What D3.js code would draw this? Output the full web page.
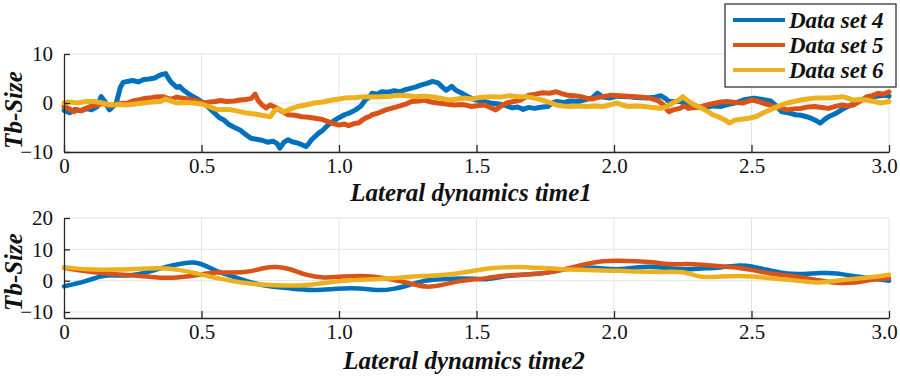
<!DOCTYPE html>
<html lang="en">
  <head>
    <meta charset="UTF-8" />
    <title>Tb-Size lateral dynamics</title>
    <script src="https://d3js.org/d3.v7.min.js"></script>
    <style>
      body { margin: 0; background: #fff; }
      svg text { font-family: "Liberation Serif", "Times New Roman", serif; fill: #111; }
      .lbl { font-weight: bold; font-style: italic; }
    </style>
  </head>
  <body>
    <svg width="900" height="378"></svg>

    <script>
      // series names and colours (legend)
      const seriesNames = ["Data set 4", "Data set 5", "Data set 6"];
      const seriesColors = ["#0072BD", "#D95319", "#EDB120"];

      // tick labels
      const xTicks = [0, 0.5, 1.0, 1.5, 2.0, 2.5, 3.0];
      const yTicksTop = [-10, 0, 10];
      const yTicksBottom = [-10, 0, 10, 20];

      // top panel: [time, value]
      const set4Top = [[0,-1.5],[0.02,-2.0],[0.04,-1.3],[0.06,-1.6],[0.08,-1.1],[0.10,-1.4],[0.12,-0.8],[0.135,1.3],[0.15,0.2],[0.165,-1.4],[0.18,-0.6],[0.19,0.0],[0.205,3.2],[0.215,4.2],[0.23,4.4],[0.25,4.6],[0.27,4.3],[0.29,4.8],[0.31,4.9],[0.33,5.1],[0.345,5.6],[0.36,5.9],[0.37,6.0],[0.38,5.0],[0.39,4.2],[0.41,3.2],[0.42,3.4],[0.435,2.6],[0.45,2.0],[0.46,1.6],[0.48,1.0],[0.50,0.3],[0.52,-0.6],[0.535,-1.4],[0.55,-2.2],[0.565,-3.0],[0.58,-3.4],[0.60,-4.4],[0.62,-5.0],[0.64,-5.5],[0.66,-6.4],[0.68,-7.2],[0.70,-7.4],[0.72,-7.6],[0.74,-8.0],[0.76,-7.8],[0.775,-8.3],[0.785,-9.2],[0.80,-8.0],[0.815,-7.5],[0.83,-7.9],[0.85,-8.2],[0.865,-8.5],[0.88,-8.9],[0.89,-8.3],[0.90,-7.5],[0.925,-6.2],[0.94,-5.6],[0.96,-4.5],[0.985,-3.5],[1.00,-3.0],[1.02,-2.4],[1.04,-2.0],[1.06,-1.4],[1.08,-0.6],[1.095,0.6],[1.11,1.2],[1.12,2.0],[1.14,1.8],[1.155,2.3],[1.18,2.2],[1.20,2.5],[1.22,2.3],[1.24,2.7],[1.26,3.0],[1.28,3.3],[1.30,3.7],[1.32,4.0],[1.34,4.4],[1.36,4.1],[1.375,3.3],[1.39,2.6],[1.41,3.4],[1.425,2.6],[1.44,2.2],[1.46,1.6],[1.48,1.0],[1.50,0.6],[1.52,0.4],[1.55,0.0],[1.58,-0.2],[1.60,-0.4],[1.63,-1.0],[1.65,-0.8],[1.67,-1.3],[1.69,-0.9],[1.71,-1.1],[1.74,-0.8],[1.76,-0.7],[1.775,0.0],[1.79,0.3],[1.82,0.1],[1.84,0.4],[1.87,0.3],[1.89,0.6],[1.92,1.0],[1.94,2.0],[1.96,1.2],[1.985,1.0],[2.01,1.4],[2.05,1.3],[2.08,1.1],[2.12,1.0],[2.15,1.2],[2.17,1.5],[2.19,0.8],[2.20,0.3],[2.24,0.3],[2.27,-0.4],[2.30,-0.8],[2.33,-1.0],[2.36,-0.6],[2.39,-0.7],[2.42,-0.2],[2.44,0.0],[2.47,0.6],[2.49,0.8],[2.51,1.0],[2.54,0.7],[2.57,0.4],[2.59,-0.6],[2.61,-1.8],[2.635,-2.0],[2.66,-2.4],[2.68,-2.5],[2.70,-2.8],[2.72,-3.2],[2.735,-3.6],[2.75,-4.1],[2.765,-3.4],[2.78,-2.8],[2.80,-2.3],[2.81,-2.0],[2.83,-1.3],[2.85,-0.7],[2.87,-0.2],[2.90,0.6],[2.92,1.0],[2.94,1.3],[2.96,1.4],[2.99,1.6],[3.0,1.4]];
      const set5Top = [[0,-0.7],[0.02,-1.2],[0.035,-1.8],[0.05,-1.4],[0.065,-1.6],[0.08,-1.1],[0.10,-0.6],[0.12,-0.4],[0.14,-0.1],[0.16,-0.5],[0.18,-0.4],[0.20,-0.1],[0.23,0.0],[0.25,0.4],[0.27,0.6],[0.29,0.9],[0.31,1.0],[0.33,1.2],[0.36,1.3],[0.38,0.9],[0.39,0.8],[0.41,1.2],[0.43,1.0],[0.45,0.8],[0.47,0.6],[0.49,0.3],[0.51,0.0],[0.53,0.2],[0.55,0.3],[0.57,0.5],[0.59,0.3],[0.62,0.4],[0.64,0.6],[0.66,0.7],[0.68,0.9],[0.695,1.8],[0.705,0.6],[0.72,-0.4],[0.735,-1.0],[0.75,-0.4],[0.77,-0.9],[0.79,-1.6],[0.815,-2.4],[0.84,-2.5],[0.865,-2.8],[0.89,-2.9],[0.913,-3.1],[0.935,-3.3],[0.96,-3.8],[0.98,-4.2],[1.00,-4.5],[1.02,-4.3],[1.035,-4.6],[1.055,-4.2],[1.07,-4.1],[1.085,-3.5],[1.095,-3.1],[1.11,-2.8],[1.12,-2.4],[1.145,-2.0],[1.17,-1.4],[1.19,-1.1],[1.216,-0.7],[1.24,-0.3],[1.264,0.3],[1.29,0.4],[1.31,0.6],[1.335,0.2],[1.36,0.0],[1.39,-0.2],[1.42,-0.4],[1.45,-0.3],[1.48,-0.7],[1.51,-0.5],[1.53,-0.4],[1.55,-0.9],[1.57,-1.4],[1.59,-0.6],[1.61,0.0],[1.635,0.3],[1.66,0.6],[1.675,1.1],[1.69,1.6],[1.715,1.8],[1.74,2.1],[1.765,2.0],[1.79,2.3],[1.81,1.9],[1.83,1.6],[1.855,1.5],[1.88,1.3],[1.90,1.0],[1.92,0.8],[1.94,1.1],[1.96,1.3],[1.99,1.6],[2.02,1.5],[2.05,1.4],[2.08,1.3],[2.105,1.2],[2.13,1.0],[2.16,0.5],[2.18,-0.4],[2.19,-1.2],[2.20,-1.8],[2.215,-1.4],[2.24,-1.1],[2.255,-0.6],[2.27,-1.1],[2.295,-0.9],[2.32,-0.7],[2.345,-0.3],[2.37,0.0],[2.39,0.2],[2.41,0.3],[2.44,0.1],[2.47,0.0],[2.50,0.6],[2.52,0.4],[2.54,0.0],[2.56,-0.3],[2.58,-0.7],[2.605,-1.0],[2.63,-1.4],[2.655,-1.2],[2.68,-1.1],[2.705,-0.8],[2.73,-0.7],[2.755,-0.9],[2.78,-1.1],[2.805,-0.7],[2.83,-0.4],[2.85,-0.6],[2.87,-0.4],[2.89,0.2],[2.92,1.3],[2.94,1.5],[2.96,2.0],[2.98,1.8],[3.0,2.3]];
      const set6Top = [[0,0],[0.02,0.2],[0.05,0.0],[0.08,0.3],[0.11,0.3],[0.14,0.0],[0.17,-0.4],[0.20,-0.3],[0.23,-0.4],[0.26,-0.2],[0.29,0.0],[0.32,0.2],[0.35,0.3],[0.37,0.8],[0.39,0.4],[0.41,0.0],[0.44,0.1],[0.47,0.0],[0.50,-0.2],[0.52,-0.6],[0.54,-1.0],[0.56,-1.4],[0.585,-1.3],[0.61,-1.4],[0.635,-1.7],[0.66,-2.0],[0.685,-2.2],[0.71,-2.4],[0.73,-2.6],[0.75,-2.8],[0.765,-1.6],[0.78,-1.1],[0.80,-1.8],[0.825,-1.2],[0.85,-0.7],[0.88,-0.4],[0.91,0.0],[0.94,0.2],[0.975,0.6],[1.00,0.8],[1.02,1.0],[1.06,1.1],[1.095,1.3],[1.125,1.2],[1.155,1.3],[1.19,1.4],[1.216,1.6],[1.25,1.5],[1.28,1.3],[1.31,1.4],[1.336,1.3],[1.37,1.0],[1.40,0.6],[1.43,0.8],[1.46,1.0],[1.48,0.8],[1.51,1.1],[1.55,1.3],[1.585,1.2],[1.62,1.5],[1.65,1.3],[1.68,1.3],[1.71,1.0],[1.74,0.6],[1.765,0.1],[1.79,-0.4],[1.815,-0.6],[1.84,-0.7],[1.87,-0.6],[1.90,-0.7],[1.93,-0.6],[1.96,-0.7],[1.985,-0.4],[2.01,0.0],[2.03,-0.4],[2.05,-0.7],[2.08,-0.6],[2.11,-0.7],[2.14,-0.9],[2.17,-1.1],[2.19,-0.8],[2.20,-0.4],[2.22,0.2],[2.235,0.6],[2.25,1.3],[2.265,0.6],[2.28,0.0],[2.30,-0.6],[2.32,-1.1],[2.34,-1.7],[2.36,-2.4],[2.375,-2.7],[2.39,-3.1],[2.405,-3.5],[2.42,-4.1],[2.44,-3.5],[2.465,-3.3],[2.49,-3.1],[2.515,-2.8],[2.54,-2.1],[2.56,-1.6],[2.58,-1.1],[2.605,-0.5],[2.63,0.0],[2.655,0.3],[2.68,0.6],[2.705,0.8],[2.73,1.0],[2.755,1.0],[2.78,1.0],[2.805,1.1],[2.83,1.3],[2.85,1.0],[2.87,0.6],[2.895,0.7],[2.92,0.6],[2.945,0.3],[2.97,0.0],[3.0,0.3]];

      // bottom panel: smoother curves
      const set4Bottom = [[0,-1.8],[0.08,-0.2],[0.13,1.4],[0.167,1.9],[0.23,1.4],[0.3,2.5],[0.373,4.6],[0.434,5.6],[0.48,6.0],[0.52,4.6],[0.567,2.5],[0.615,1.4],[0.664,-0.2],[0.737,-1.8],[0.81,-2.3],[0.906,-3.2],[0.99,-2.5],[1.076,-2.3],[1.137,-3.2],[1.197,-2.8],[1.258,-1.3],[1.319,0.3],[1.379,0.5],[1.44,0.8],[1.5,0.6],[1.537,0.3],[1.6,1.4],[1.66,1.9],[1.72,2.1],[1.78,2.8],[1.84,4.1],[1.9,4.3],[1.96,3.9],[2.02,3.5],[2.08,4.3],[2.14,4.6],[2.2,3.9],[2.26,3.5],[2.32,3.9],[2.385,4.1],[2.46,5.1],[2.5,4.6],[2.57,3.2],[2.63,2.1],[2.69,2.1],[2.75,2.5],[2.81,2.5],[2.87,1.4],[2.93,0.8],[3.0,0]];
      const set5Bottom = [[0,4.1],[0.058,3.2],[0.13,2.5],[0.2,1.9],[0.276,1.6],[0.35,0.8],[0.42,1.0],[0.495,1.9],[0.555,2.8],[0.615,2.5],[0.676,2.8],[0.725,4.1],[0.773,4.6],[0.82,3.9],[0.88,1.7],[0.943,0.8],[1.016,1.4],[1.076,1.6],[1.125,1.4],[1.197,0.3],[1.258,-0.8],[1.319,-2.3],[1.379,-1.3],[1.44,0],[1.5,0.5],[1.537,0.8],[1.6,1.7],[1.66,1.9],[1.72,2.1],[1.78,2.8],[1.84,4.1],[1.9,5.4],[1.96,6.4],[2.02,6.4],[2.08,6.2],[2.14,6.0],[2.2,5.1],[2.26,5.4],[2.32,5.1],[2.385,4.6],[2.46,4.1],[2.5,3.5],[2.57,2.1],[2.63,1.7],[2.69,1.0],[2.75,0],[2.81,-0.8],[2.87,-0.8],[2.93,0.3],[3.0,0.8]];
      const set6Bottom = [[0,4.3],[0.08,3.5],[0.167,3.5],[0.264,3.7],[0.35,4.1],[0.42,3.5],[0.495,2.1],[0.567,0.6],[0.64,-0.6],[0.713,-1.3],[0.81,-1.7],[0.906,-1.3],[0.99,-0.2],[1.076,0.3],[1.173,0.6],[1.27,1.4],[1.379,1.7],[1.476,2.9],[1.537,3.9],[1.6,4.3],[1.66,4.4],[1.72,4.1],[1.78,3.9],[1.84,3.5],[1.9,3.5],[1.96,3.2],[2.02,3.2],[2.08,2.9],[2.14,2.8],[2.2,2.8],[2.26,2.9],[2.32,0.8],[2.385,1.4],[2.46,1.6],[2.5,1.4],[2.57,0.8],[2.63,0.3],[2.69,-0.2],[2.75,-0.8],[2.81,0],[2.87,0.6],[2.93,1.0],[3.0,1.9]];

      const svg = d3.select("svg");
      const serifFont = "'Liberation Serif', 'Times New Roman', serif";
      const left = 64, right = 889;
      const fmtX = d => (d === 0 ? "0" : d3.format(".1f")(d));

      function panel(cfg) {
        const x = d3.scaleLinear().domain([0, 3]).range([left, right]);
        const y = d3.scaleLinear().domain(cfg.yDomain).range([cfg.bottom, cfg.top]);
        const g = svg.append("g");

        // grid
        g.append("g")
          .selectAll("line")
          .data(xTicks.filter(d => d > 0))
          .join("line")
          .attr("x1", d => x(d)).attr("x2", d => x(d))
          .attr("y1", cfg.top).attr("y2", cfg.bottom)
          .attr("stroke", "#e3e3e3").attr("stroke-width", 1);
        g.append("g")
          .selectAll("line")
          .data(cfg.yTicks)
          .join("line")
          .attr("x1", left).attr("x2", right)
          .attr("y1", d => y(d)).attr("y2", d => y(d))
          .attr("stroke", "#e3e3e3").attr("stroke-width", 1);

        // lines
        const line = d3.line()
          .x(d => x(d[0]))
          .y(d => y(d[1]))
          .curve(cfg.curve);
        cfg.series.forEach((s, i) => {
          g.append("path")
            .datum(s)
            .attr("d", line)
            .attr("fill", "none")
            .attr("stroke", seriesColors[i])
            .attr("stroke-width", cfg.width)
            .attr("stroke-linejoin", "round")
            .attr("stroke-linecap", "round");
        });

        // axes, ticks pointing inward
        const xa = g.append("g")
          .attr("transform", `translate(0,${cfg.bottom})`)
          .call(d3.axisBottom(x).tickValues(xTicks).tickFormat(fmtX)
            .tickSizeInner(-7).tickSizeOuter(0).tickPadding(6));
        const ya = g.append("g")
          .attr("transform", `translate(${left},0)`)
          .call(d3.axisLeft(y).tickValues(cfg.yTicks)
            .tickSizeInner(-6).tickSizeOuter(0).tickPadding(11));
        [xa, ya].forEach(a => {
          a.attr("font-family", serifFont).attr("font-size", 21);
          a.select(".domain").attr("stroke", "#262626").attr("stroke-width", 1.3);
          a.selectAll(".tick line").attr("stroke", "#262626").attr("stroke-width", 1.3);
          a.selectAll(".tick text")
            .style("font-family", serifFont)
            .attr("fill", "#111");
        });
        // last x label sits at the right edge; nudge it inside
        xa.selectAll(".tick text").filter(d => d === 3).attr("dx", -5);

        // labels
        svg.append("text")
          .attr("class", "lbl")
          .attr("x", cfg.xLabelX).attr("y", cfg.xLabelY)
          .attr("text-anchor", "middle")
          .style("font-family", serifFont)
          .style("font-size", "25px")
          .text(cfg.xLabel);
        svg.append("text")
          .attr("class", "lbl")
          .attr("transform", `translate(22,${cfg.yLabelY}) rotate(-90)`)
          .attr("text-anchor", "middle")
          .style("font-family", serifFont)
          .style("font-size", "25px")
          .text("Tb-Size");
      }

      panel({
        top: 54, bottom: 152, yDomain: [-10, 10], yTicks: yTicksTop,
        series: [set4Top, set5Top, set6Top], curve: d3.curveLinear, width: 5,
        xLabel: "Lateral dynamics time1", xLabelX: 471, xLabelY: 201, yLabelY: 110
      });
      panel({
        top: 218, bottom: 318, yDomain: [-11.9, 20], yTicks: yTicksBottom,
        series: [set4Bottom, set5Bottom, set6Bottom], curve: d3.curveBasis, width: 4.5,
        xLabel: "Lateral dynamics time2", xLabelX: 464, xLabelY: 369, yLabelY: 272
      });

      // legend
      const lg = svg.append("g").attr("transform", "translate(725,4)");
      lg.append("rect")
        .attr("width", 171).attr("height", 83)
        .attr("fill", "#fff").attr("stroke", "#262626").attr("stroke-width", 1.2);
      seriesNames.forEach((name, i) => {
        const yy = 16 + i * 25;
        lg.append("line")
          .attr("x1", 8).attr("x2", 60)
          .attr("y1", yy).attr("y2", yy)
          .attr("stroke", seriesColors[i]).attr("stroke-width", 4);
        lg.append("text")
          .attr("class", "lbl")
          .attr("x", 64).attr("y", yy + 8)
          .style("font-family", serifFont)
          .style("font-size", "23px")
          .text(name);
      });
    </script>
  </body>
</html>
